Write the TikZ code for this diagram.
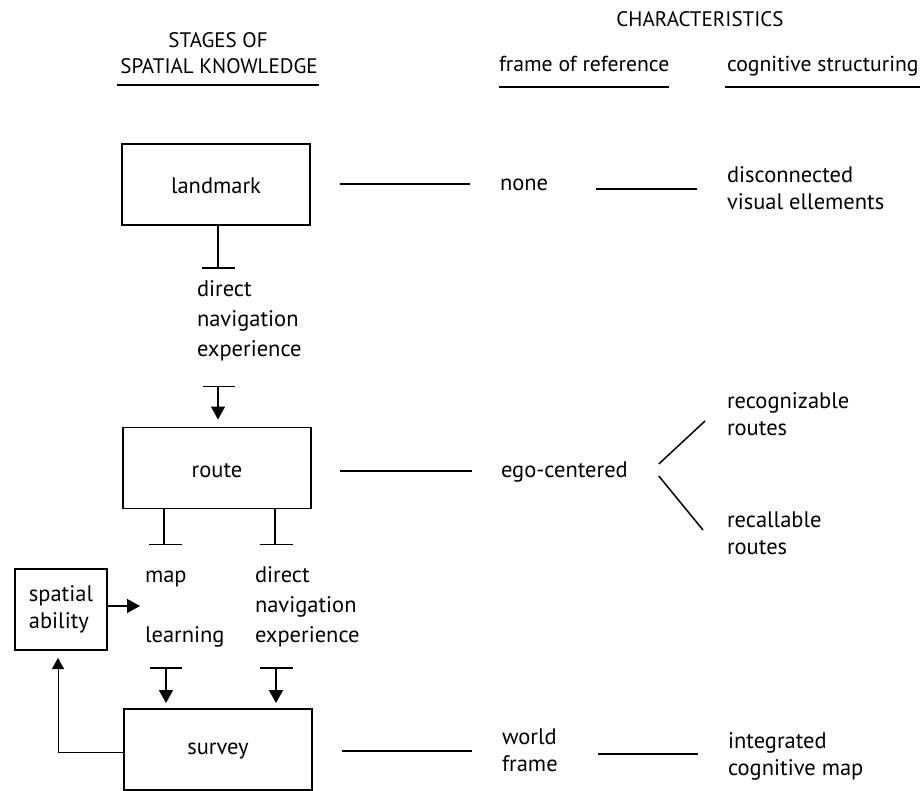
\documentclass[tikz,border=0pt]{standalone}
\usepackage{fontspec}
\setmainfont{PT Sans}
\usetikzlibrary{arrows.meta,calc}
% left-aligned block of lines whose baseline is the first line's
\newcommand\stack[1]{\vtop{\halign{##\strut\hfil\cr#1\crcr}}}

\begin{document}
\begin{tikzpicture}[x=1pt,y=-1pt,
  font=\fontsize{22.5}{27}\selectfont,
  every node/.style={inner sep=0pt,outer sep=0pt},
  txt/.style={anchor=base west},
  wide/.style={font=\fontsize{22.5}{30}\selectfont},
  caps/.style={anchor=base,font=\fontsize{21}{27}\selectfont},
  subhead/.style={anchor=base west,font=\fontsize{21.7}{27}\selectfont},
  stagebox/.style={draw,line width=1.8pt,minimum width=188pt,minimum height=81pt,
                   text height=18pt,text depth=0pt},
  smallbox/.style={draw,line width=1.8pt,minimum width=92pt,minimum height=81pt},
  link/.style={line width=1.5pt},
  bar/.style={line width=1.5pt},
  arr/.style={line width=1.5pt,-{Triangle[length=13pt,width=14pt]}},
  fine/.style={line width=0.9pt,-{Triangle[length=11pt,width=12pt]}}]
\useasboundingbox (0,0) rectangle (923,791);

% column headings
\node[caps] (stages) at (218,48) {STAGES OF};
\node[caps] (spatialk) at (219,74) {SPATIAL KNOWLEDGE};
\node[caps] (chars) at (700,27) {CHARACTERISTICS};
\node[subhead] (frameref) at (499,72) {frame of reference};
\node[subhead] (cogstruct) at (727,72) {cognitive structuring};
\draw[link] ($(spatialk.base west)+(-3,11)$) -- ($(spatialk.base east)+(1,11)$);
\draw[link] ($(frameref.base west)+(0,15)$) -- ($(frameref.base east)+(0,15)$);
\draw[link] ($(cogstruct.base west)+(-2,15)$) -- ($(cogstruct.base east)+(1,15)$);

% stages
\node[stagebox] (landmark) at (216,184.5) {landmark};
\node[stagebox] (route) at (217,468) {route};
\node[stagebox,text height=10pt] (survey) at (218,749.5) {survey};
\node[smallbox] (spatial) at (61,609.5) {\stack{spatial\cr ability}};

% transition labels
\node[txt,wide] (dne1) at (197,297) {\stack{direct\cr navigation\cr experience}};
\node[txt] (map) at (145,582) {map};
\node[txt] (learning) at (145,642) {learning};
\node[txt,wide] (dne2) at (255,582) {\stack{direct\cr navigation\cr experience}};

% characteristics
\node[txt] (none) at (500,191) {none};
\node[txt] (disc) at (727,183) {\stack{disconnected\cr visual ellements}};
\node[txt] (ego) at (501,477) {ego-centered};
\node[txt] (recog) at (727,408) {\stack{recognizable\cr routes}};
\node[txt] (recall) at (727,527) {\stack{recallable\cr routes}};
\node[txt] (world) at (502,744) {\stack{world\cr frame}};
\node[txt] (integ) at (728,748) {\stack{integrated\cr cognitive map}};

% landmark -> route
\draw[link] ([xshift=2pt]landmark.south) -- ++(0,43) coordinate (t1);
\draw[bar] ($(t1)+(-16,0)$) -- ++(33,0);
\draw[bar] ([xshift=-14pt,yshift=41pt]route.north) -- ([xshift=18pt,yshift=41pt]route.north);
\draw[arr] ([xshift=1pt,yshift=41pt]route.north) -- ([xshift=1pt,yshift=8pt]route.north);

% route -> survey
\draw[link] ([xshift=-53pt]route.south) -- ++(0,36) coordinate (t2);
\draw[bar] ($(t2)+(-15,0)$) -- ++(33,0);
\draw[link] ([xshift=58pt]route.south) -- ++(0,36) coordinate (t3);
\draw[bar] ($(t3)+(-15,0)$) -- ++(33,0);
\draw[bar] ([xshift=-68pt,yshift=41pt]survey.north) -- ([xshift=-36pt,yshift=41pt]survey.north);
\draw[arr] ([xshift=-52pt,yshift=41pt]survey.north) -- ([xshift=-52pt,yshift=6pt]survey.north);
\draw[bar] ([xshift=42pt,yshift=41pt]survey.north) -- ([xshift=75pt,yshift=41pt]survey.north);
\draw[arr] ([xshift=58pt,yshift=41pt]survey.north) -- ([xshift=58pt,yshift=6pt]survey.north);

% spatial ability
\draw[arr] ([yshift=3.5pt]spatial.east) -- ++(33,0);
\draw[fine] ([yshift=-2.5pt]survey.west) -| ([xshift=-3pt,yshift=-8pt]spatial.south);

% stage -> frame of reference
\draw[link] ([xshift=30pt,yshift=0.5pt]landmark.east) -- ++(130,0);
\draw[link] ([xshift=29pt,yshift=-3pt]route.east) -- ++(132,0);
\draw[link] ([xshift=30pt,yshift=-1.5pt]survey.east) -- ++(130,0);

% frame of reference -> cognitive structuring
\draw[link] ($(none.base east)+(48,-2)$) -- ($(disc.base west)+(-30,6)$);
\draw[link] ($(ego.base east)+(31,-13)$) -- ($(recog.base west)+(-22,13)$);
\draw[link] ($(ego.base east)+(31,-1)$) -- ($(recall.base west)+(-24,3)$);
\draw[link] ($(world.base west)+(96,10)$) -- ($(integ.base west)+(-30,6)$);
\end{tikzpicture}
\end{document}
